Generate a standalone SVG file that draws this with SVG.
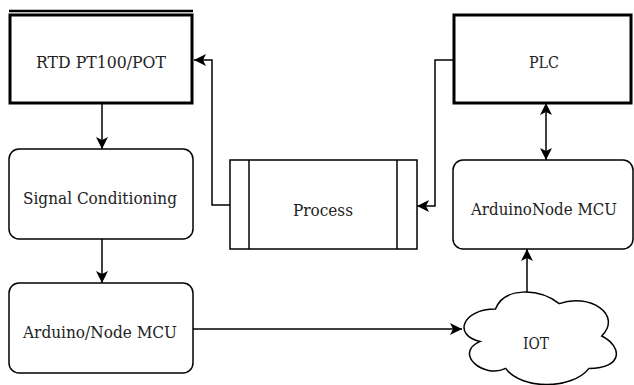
<svg xmlns="http://www.w3.org/2000/svg" width="634" height="385" viewBox="0 0 634 385">
<style>
.box{fill:#fff;stroke:#000;stroke-width:1.5}
.thick{fill:#fff;stroke:#000;stroke-width:3}
.lbl{font-family:"DejaVu Serif Condensed","DejaVu Serif",serif;font-size:16.5px;fill:#222;text-anchor:middle;dominant-baseline:central}
.con{fill:none;stroke:#000;stroke-width:1.5}
</style>
<defs>
<marker id="ah" markerUnits="userSpaceOnUse" viewBox="0 0 12 12" markerWidth="12" markerHeight="12" refX="12" refY="6" orient="auto-start-reverse">
<path d="M0,0 L12,6 L0,12 L3,6 Z" fill="#000"/>
</marker>
</defs>
<rect width="634" height="385" fill="#fff"/>
<g id="connectors">
<line class="con" x1="102" y1="103" x2="102" y2="149" marker-end="url(#ah)"/>
<line class="con" x1="102" y1="239" x2="102" y2="283" marker-end="url(#ah)"/>
<polyline class="con" points="230,205 212,205 212,60 194,60" marker-end="url(#ah)"/>
<polyline class="con" points="453,60 435,60 435,206 417,206" marker-end="url(#ah)"/>
<line class="con" x1="546" y1="103" x2="546" y2="160" marker-start="url(#ah)" marker-end="url(#ah)"/>
<line class="con" x1="193" y1="329" x2="462" y2="329" marker-end="url(#ah)"/>
<line class="con" x1="527" y1="292" x2="527" y2="249" marker-end="url(#ah)"/>
</g>
<g id="rtd">
<line x1="9" y1="11" x2="193" y2="11" stroke="#000" stroke-width="2.5"/>
<rect class="thick" x="10" y="15" width="182" height="88"/>
<text class="lbl" x="101" y="62" textLength="130" lengthAdjust="spacingAndGlyphs">RTD PT100/POT</text>
</g>
<g id="plc">
<rect class="thick" x="454" y="15" width="177" height="88"/>
<text class="lbl" x="544" y="62" textLength="30" lengthAdjust="spacingAndGlyphs">PLC</text>
</g>
<g id="signal">
<rect class="box" x="9" y="149" width="184" height="90" rx="10"/>
<text class="lbl" x="100" y="198" textLength="154" lengthAdjust="spacingAndGlyphs">Signal Conditioning</text>
</g>
<g id="process">
<rect class="box" x="230" y="160" width="187" height="89"/>
<line class="con" x1="249" y1="160" x2="249" y2="249"/>
<line class="con" x1="397" y1="160" x2="397" y2="249"/>
<text class="lbl" x="323" y="210" textLength="60" lengthAdjust="spacingAndGlyphs">Process</text>
</g>
<g id="arduinonode">
<rect class="box" x="453" y="160" width="180" height="89" rx="10"/>
<text class="lbl" x="544" y="209" textLength="146" lengthAdjust="spacingAndGlyphs">ArduinoNode MCU</text>
</g>
<g id="arduino">
<rect class="box" x="9" y="283" width="184" height="90" rx="10"/>
<text class="lbl" x="100" y="332" textLength="154" lengthAdjust="spacingAndGlyphs">Arduino/Node MCU</text>
</g>
<g id="iot">
<path class="box" d="M495.5,309 C461.5,309 453,336 480.2,341.4 C453,353.3 483.6,379.2 505.7,368.4 C521,390 572,390 589,368.4 C623,368.4 623,346.8 601.75,336 C623,314.4 589,292.8 559.25,303.6 C538,287.4 504,287.4 495.5,309 Z"/>
<text class="lbl" x="536" y="343" textLength="26" lengthAdjust="spacingAndGlyphs">IOT</text>
</g>
</svg>
